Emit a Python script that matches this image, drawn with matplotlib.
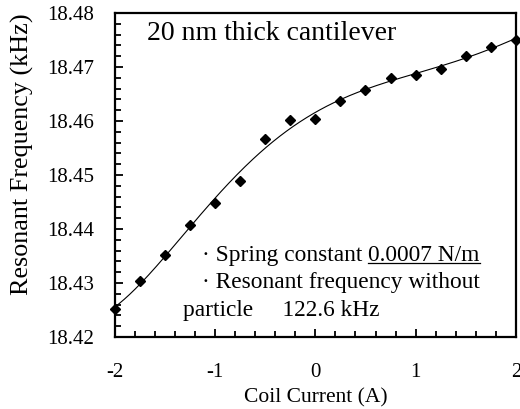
import numpy as np
import matplotlib.pyplot as plt
from matplotlib.ticker import MultipleLocator

plt.rcParams['font.family'] = ['Liberation Serif', 'DejaVu Serif']

# data
current = [-2.0, -1.75, -1.5, -1.25, -1.0, -0.75, -0.5, -0.25, 0.0,
           0.25, 0.5, 0.75, 1.0, 1.25, 1.5, 1.75, 2.0]
freq = [18.4252, 18.4304, 18.4351, 18.4407, 18.4449, 18.4489, 18.4567,
        18.4602, 18.4604, 18.4638, 18.4657, 18.4679, 18.4686, 18.4696,
        18.4721, 18.4737, 18.4751]

x_ticks = [-2, -1, 0, 1, 2]
x_tick_labels = ['-2', '-1', '0', '1', '2']
y_ticks = [18.42, 18.43, 18.44, 18.45, 18.46, 18.47, 18.48]

title_text = '20 nm thick cantilever'
note_1 = '\u00b7 Spring constant '
note_1_value = '0.0007 N/m'
note_2 = '\u00b7 Resonant frequency without'
note_3 = 'particle     122.6 kHz'

fig = plt.figure(figsize=(5.2, 4.09), dpi=100)
ax = fig.add_axes([0.221, 0.176, 0.771, 0.792])

# smooth fit through the measured points
coef = np.polyfit(current, freq, 5)
xs = np.linspace(-2, 2, 300)
ax.plot(xs, np.polyval(coef, xs), color='black', linewidth=0.8)
ax.plot(current, freq, linestyle='none', marker='D', markersize=5,
        color='black', clip_on=False, zorder=3)

ax.set_xlim(-2, 2)
ax.set_ylim(18.42, 18.48)
ax.set_xticks(x_ticks)
ax.set_xticklabels(x_tick_labels)
ax.set_yticks(y_ticks)
ax.set_yticklabels([f'{v:.2f}' for v in y_ticks])
ax.xaxis.set_minor_locator(MultipleLocator(0.2))
ax.yaxis.set_minor_locator(MultipleLocator(0.002))
ax.tick_params(which='major', direction='in', length=6, width=1.3,
               labelsize=15)
ax.tick_params(which='minor', direction='in', length=4, width=1.3)
ax.tick_params(axis='y', which='major', pad=15)
ax.tick_params(axis='x', which='major', pad=18.5)
for s in ax.spines.values():
    s.set_linewidth(1.6)

ax.set_xlabel('Coil Current (A)', fontsize=15.5, labelpad=5)
fig.text(22 / 520, 1 - 154 / 409, 'Resonant Frequency (kHz)', fontsize=18.8,
         rotation=90, ha='center', va='center')

ax.text(0.08, 0.938, title_text, transform=ax.transAxes, fontsize=20,
        ha='left', va='center')

t1 = ax.text(0.217, 0.253, note_1, transform=ax.transAxes, fontsize=16.8,
             ha='left', va='center')
ax.text(0.217, 0.167, note_2, transform=ax.transAxes, fontsize=16.8,
        ha='left', va='center')
ax.text(0.170, 0.083, note_3, transform=ax.transAxes, fontsize=16.8,
        ha='left', va='center')

# underlined value after the first note
fig.canvas.draw()
bb = t1.get_window_extent()
inv = ax.transAxes.inverted()
x_end, _ = inv.transform((bb.x1, bb.y0))
t2 = ax.text(x_end, 0.253, note_1_value, transform=ax.transAxes,
             fontsize=16.8, ha='left', va='center')
fig.canvas.draw()
bb2 = t2.get_window_extent()
(ux0, uy), (ux1, _) = inv.transform([(bb2.x0, bb2.y0 + 3), (bb2.x1, bb2.y0)])
ax.plot([ux0, ux1], [uy, uy], transform=ax.transAxes, color='black',
        linewidth=0.9)

fig.savefig('out.png', dpi=100)
